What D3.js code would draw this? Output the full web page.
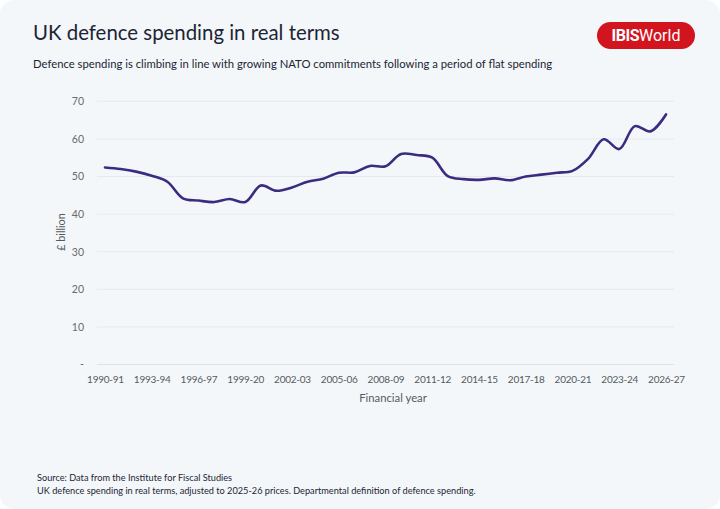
<!DOCTYPE html>
<html>
<head>
<meta charset="utf-8">
<script src="https://cdn.jsdelivr.net/npm/d3@7"></script>
<style>
  html, body { margin: 0; padding: 0; background: #ffffff; }
  svg { display: block; }
  text { font-family: Lato, "Open Sans", sans-serif; }
</style>
</head>
<body>
<svg id="chart" width="720" height="509"></svg>
<script>
// ---- data ----
const categories = [
  "1990-91","1991-92","1992-93","1993-94","1994-95","1995-96","1996-97","1997-98","1998-99","1999-20",
  "2000-01","2001-02","2002-03","2003-04","2004-05","2005-06","2006-07","2007-08","2008-09","2009-10",
  "2010-11","2011-12","2012-13","2013-14","2014-15","2015-16","2016-17","2017-18","2018-19","2019-20",
  "2020-21","2021-22","2022-23","2023-24","2024-25","2025-26","2026-27"
];
const spending = [
  52.4, 52.0, 51.3, 50.2, 48.6, 44.2, 43.6, 43.2, 44.0, 43.2,
  47.6, 46.2, 47.1, 48.6, 49.4, 51.0, 51.1, 52.8, 52.7, 56.0,
  55.7, 55.0, 50.1, 49.3, 49.1, 49.5, 49.0, 50.0, 50.5, 51.0,
  51.5, 54.7, 59.9, 57.3, 63.4, 62.0, 66.5
];
const tickLabels = ["1990-91","1993-94","1996-97","1999-20","2002-03","2005-06","2008-09",
                    "2011-12","2014-15","2017-18","2020-21","2023-24","2026-27"];
const yTicks = [0, 10, 20, 30, 40, 50, 60, 70];

const title = "UK defence spending in real terms";
const subtitle = "Defence spending is climbing in line with growing NATO commitments following a period of flat spending";
const sourceLine = "Source: Data from the Institute for Fiscal Studies";
const noteLine = "UK defence spending in real terms, adjusted to 2025-26 prices. Departmental definition of defence spending.";

// ---- drawing ----
const svg = d3.select("#chart");
const W = 720, H = 509;

svg.append("rect").attr("x", 0).attr("y", 0).attr("width", W).attr("height", H)
  .attr("rx", 14).attr("fill", "#f4f7f9");

svg.append("text").attr("x", 33).attr("y", 40)
  .attr("font-size", 20.4).attr("fill", "#1b2535").text(title);

svg.append("text").attr("x", 33).attr("y", 68)
  .attr("font-size", 11.3).attr("fill", "#1b2535").text(subtitle);

// logo
const logo = svg.append("g");
logo.append("rect").attr("x", 597).attr("y", 22).attr("width", 98).attr("height", 27)
  .attr("rx", 13.5).attr("fill", "#d2141e");
const lt = logo.append("text").attr("x", 646).attr("y", 41).attr("text-anchor", "middle")
  .attr("font-size", 16).attr("fill", "#ffffff")
  .style("font-family", "Roboto, Lato, sans-serif");
lt.append("tspan").attr("font-weight", 700).attr("letter-spacing", -0.5).text("IBIS");
lt.append("tspan").attr("font-weight", 400).text("World");

const x = d3.scalePoint().domain(categories).range([105, 666]);
const y = d3.scaleLinear().domain([0, 70]).range([364.5, 101.3]);

// gridlines
svg.append("g").selectAll("line").data(yTicks.filter(d => d > 0)).join("line")
  .attr("x1", 97).attr("x2", 674)
  .attr("y1", d => y(d)).attr("y2", d => y(d))
  .attr("stroke", "#e6eaee").attr("stroke-width", 1);

// y axis
const yAxis = svg.append("g").attr("transform", "translate(90,0)")
  .call(d3.axisLeft(y).tickValues(yTicks).tickSize(0).tickPadding(6)
    .tickFormat(d => d === 0 ? "-" : d));
yAxis.select(".domain").remove();
yAxis.selectAll("text").attr("font-size", 10.5).attr("fill", "#666a70")
  .style("font-family", "Lato, sans-serif");

// x axis
const xAxis = svg.append("g").attr("transform", `translate(0,${y(0)})`)
  .call(d3.axisBottom(x).tickValues(tickLabels).tickSize(0).tickPadding(11));
xAxis.select(".domain").attr("d", "M97,0H674").attr("stroke", "#dde2e6");
xAxis.selectAll("text").attr("font-size", 10).attr("letter-spacing", -0.25).attr("fill", "#555a60")
  .style("font-family", "Lato, sans-serif");

// axis titles
svg.append("text").attr("transform", "translate(64.5,232) rotate(-90)")
  .attr("text-anchor", "middle").attr("font-size", 10.8).attr("fill", "#555a60").text("£ billion");
svg.append("text").attr("x", 393).attr("y", 402).attr("text-anchor", "middle")
  .attr("font-size", 11.3).attr("fill", "#555a60").text("Financial year");

// line
const line = d3.line()
  .x((d, i) => x(categories[i]))
  .y(d => y(d))
  .curve(d3.curveCatmullRom.alpha(0.5));
svg.append("path").datum(spending).attr("d", line)
  .attr("fill", "none").attr("stroke", "#3b2c80").attr("stroke-width", 2.6)
  .attr("stroke-linejoin", "round").attr("stroke-linecap", "round");

// footer
svg.append("text").attr("x", 37).attr("y", 481).attr("font-size", 9.2).attr("fill", "#1b2535").text(sourceLine);
svg.append("text").attr("x", 37).attr("y", 494).attr("font-size", 9.2).attr("fill", "#1b2535").text(noteLine);
</script>
</body>
</html>
